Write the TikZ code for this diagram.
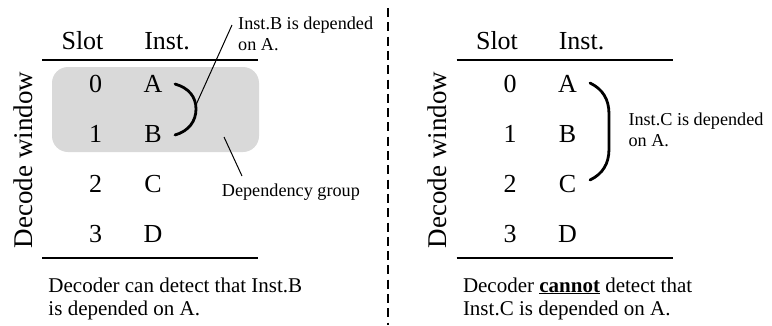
\documentclass[tikz,border=0pt]{standalone}
\usepackage{fontspec}
\setmainfont{Liberation Serif}
\tikzset{
  big/.style={font=\fontsize{26}{30}\selectfont, inner sep=0pt},
  vlab/.style={font=\fontsize{27}{30}\selectfont, inner sep=0pt},
  lab/.style={font=\fontsize{18.2}{20.7}\selectfont, inner sep=0pt, align=left},
  note/.style={font=\fontsize{21}{23.4}\selectfont, inner sep=0pt, align=left},
  tabrule/.style={line width=1.8pt},
  brace/.style={line width=2.8pt, line cap=round},
  leader/.style={line width=1pt},
  group/.style={fill=groupgray, rounded corners=16pt},
  sep/.style={line width=2pt, dash pattern=on 9pt off 5.3pt},
}
\definecolor{groupgray}{RGB}{217,217,217}
\begin{document}
\begin{tikzpicture}[x=1pt,y=-1pt]
\useasboundingbox (0,0) rectangle (772,325);

% ---------- left panel ----------
\begin{scope}[name prefix=L-]
  \fill[group] (52,67) rectangle (259,152);
  \node[vlab, rotate=90, anchor=base] (win) at (32,160) {Decode window};
  \node[big, anchor=base] (slot) at (82.5,49) {Slot};
  \node[big, anchor=base] (inst) at (167,49) {Inst.};
  \draw[tabrule] (42,60) -- (258,60);
  \draw[tabrule] (42,258.3) -- (258,258.3);
  \foreach \i/\l in {0/A,1/B,2/C,3/D}{
    \node[big, anchor=base] (s\i) at (95.5,92.3+50*\i) {\i};
    \node[big, anchor=base] (i\l) at (153,92.3+50*\i) {\l};
  }
  \draw[brace] (175,84) .. controls (189,88) and (196,97) .. (196,109)
               .. controls (196,121) and (189,131) .. (175,135);
  \coordinate (bm) at (195.5,106);
  \node[lab, anchor=north west] (dep) at (238,16.8) {Inst.B is depended\\on A.};
  \coordinate (depend) at (232,25);
  \draw[leader] (bm) -- (depend);
  \node[lab, anchor=base west] (grp) at (221.7,196) {Dependency group};
  \coordinate (gin) at (224,137);
  \coordinate (gend) at (242,176);
  \draw[leader] (gin) -- (gend);
  \node[note, anchor=north west] (nt) at (48.3,277.3) {Decoder can detect that Inst.B\\is depended on A.};
\end{scope}

% ---------- separator ----------
\draw[sep] (387.7,8) -- (387.7,325);

% ---------- right panel ----------
\begin{scope}[name prefix=R-, shift={(414.5,0)}]
  \node[vlab, rotate=90, anchor=base] (win) at (32,160) {Decode window};
  \node[big, anchor=base] (slot) at (82.5,49) {Slot};
  \node[big, anchor=base] (inst) at (167,49) {Inst.};
  \draw[tabrule] (42,60) -- (258,60);
  \draw[tabrule] (42,258.3) -- (258,258.3);
  \foreach \i/\l in {0/A,1/B,2/C,3/D}{
    \node[big, anchor=base] (s\i) at (95.5,92.3+50*\i) {\i};
    \node[big, anchor=base] (i\l) at (153,92.3+50*\i) {\l};
  }
  \draw[brace] (175.5,83) .. controls (188,89) and (194.5,99) .. (194.5,114)
               -- (194.5,149) .. controls (194.5,164) and (188,174) .. (175.5,180);
  \node[lab, anchor=north west] (dep) at (213.8,112.5) {Inst.C is depended\\on A.};
  \node[note, anchor=north west] (nt) at (48.3,277.3) {Decoder \underline{\textbf{cannot}} detect that\\Inst.C is depended on A.};
\end{scope}
\end{tikzpicture}
\end{document}
